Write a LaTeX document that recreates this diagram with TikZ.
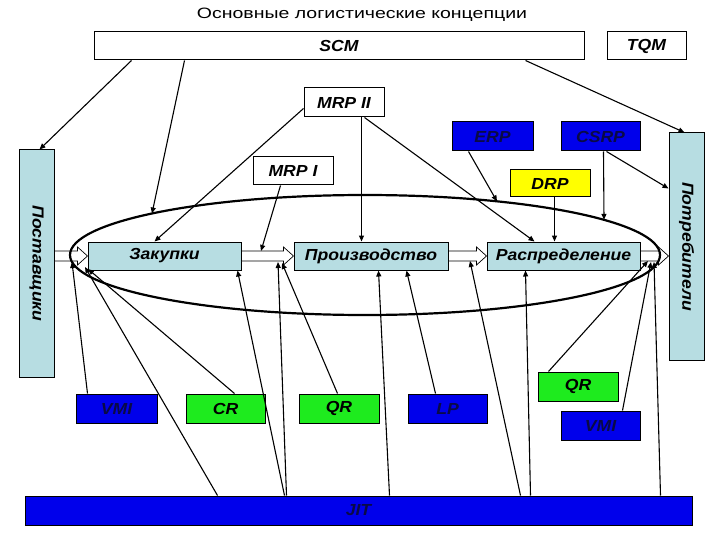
\documentclass[tikz,border=0pt]{standalone}
\usepackage{fontspec}
\setmainfont{Liberation Sans}
\newfontfamily\lblfam[FakeStretch=1.1]{Liberation Sans}
\newfontfamily\titfam[FakeStretch=1.3]{Liberation Sans}
\usetikzlibrary{arrows.meta,calc}
\definecolor{lblue}{RGB}{183,221,226}
\definecolor{pblue}{RGB}{0,0,235}
\definecolor{pgreen}{RGB}{30,235,30}
\definecolor{ptext}{RGB}{10,10,70}
\definecolor{pyellow}{RGB}{255,255,0}
\tikzset{
  box/.style={draw=black, line width=1pt, inner sep=0pt, text=black,
    font=\lblfam\bfseries\itshape\fontsize{16}{18}\selectfont},
  wbox/.style={box, fill=white},
  lbbox/.style={box, fill=lblue},
  bbox/.style={box, fill=pblue, text=ptext},
  gbox/.style={box, fill=pgreen},
  ybox/.style={box, fill=pyellow},
  vtext/.style={rotate=-90, text=black, inner sep=0pt,
    font=\lblfam\bfseries\itshape\fontsize{16}{18}\selectfont},
  conn/.style={draw=black, line width=1.1pt, -{Triangle[length=6pt,width=5pt]}},
  blockarrow/.style={draw=black, line width=0.7pt, fill=white},
  ellstyle/.style={draw=black, line width=2.2pt}
}
\newcommand\blockarrow[2]{%
  \draw[blockarrow] let \p1=(#1), \p2=(#2) in
    (\x1,{\y1+5pt}) -- ({\x2-10pt},{\y1+5pt}) -- ({\x2-10pt},{\y1+9pt}) -- (\x2,\y1)
    -- ({\x2-10pt},{\y1-9pt}) -- ({\x2-10pt},{\y1-5pt}) -- (\x1,{\y1-5pt}) -- cycle;}
\begin{document}
\begin{tikzpicture}[x=1pt,y=-1pt]
\useasboundingbox (0,0) rectangle (720,540);
% title
\node[font=\titfam\fontsize{15}{17}\selectfont, inner sep=0pt] (title) at (362,15) {Основные логистические концепции};
% top boxes
\node[wbox, minimum width=490pt, minimum height=28pt] (scm) at (339,46) {SCM};
\node[wbox, minimum width=79pt, minimum height=28pt] (tqm) at (646.5,46) {TQM};
\node[wbox, minimum width=80pt, minimum height=29pt] (mrp2) at (344,102.5) {MRP II};
\node[bbox, minimum width=81pt, minimum height=29pt] (erp) at (492.5,136.5) {ERP};
\node[bbox, minimum width=79pt, minimum height=29pt] (csrp) at (600.5,136.5) {CSRP};
\node[wbox, minimum width=80pt, minimum height=28pt] (mrp1) at (293,171) {MRP I};
\node[ybox, minimum width=80pt, minimum height=27pt] (drp) at (550,183.5) {DRP};
% side boxes
\node[lbbox, minimum width=35pt, minimum height=227pt] (potr) at (686.5,246.5) {};
\node[vtext] (potrtext) at (potr.center) {Потребители};
\node[lbbox, minimum width=35pt, minimum height=227pt] (post) at (36.5,263.5) {};
\node[vtext] (posttext) at (post.center) {Поставщики};
% process boxes
\node[lbbox, minimum width=153pt, minimum height=28pt] (zak) at (164.5,256) {Закупки};
\node[lbbox, minimum width=154pt, minimum height=28pt] (proizv) at (371,256) {Производство};
\node[lbbox, minimum width=153pt, minimum height=28pt] (raspr) at (563.5,256) {Распределение};
% bottom boxes
\node[bbox, minimum width=81pt, minimum height=29pt] (vmi1) at (116.5,408.5) {VMI};
\node[gbox, minimum width=79pt, minimum height=29pt] (cr) at (225.5,408.5) {CR};
\node[gbox, minimum width=80pt, minimum height=29pt] (qr1) at (339,408.5) {QR};
\node[bbox, minimum width=79pt, minimum height=29pt] (lp) at (447.5,408.5) {LP};
\node[gbox, minimum width=80pt, minimum height=29pt] (qr2) at (578,386.5) {QR};
\node[bbox, minimum width=79pt, minimum height=29pt] (vmi2) at (600.5,425.5) {VMI};
\node[bbox, minimum width=667pt, minimum height=29pt] (jit) at (358.5,510.5) {JIT};
% block arrows
\blockarrow{post.east |- zak.west}{zak.west}
\blockarrow{zak.east}{proizv.west}
\blockarrow{proizv.east}{raspr.west}
\blockarrow{raspr.east}{potr.west |- raspr.east}
% ellipse
\draw[ellstyle] (365,255) ellipse [x radius=295pt, y radius=60pt];
\coordinate (e1) at (152,213.5);
\coordinate (e2) at (497,201.4);
\coordinate (e3) at (604,219.8);
\coordinate (a2t) at (261,251);
\coordinate (p1) at (72,262);
\coordinate (p2) at (85,267);
\coordinate (p3) at (88,269);
\coordinate (p4) at (278,262);
\coordinate (p5) at (282,263);
\coordinate (p6) at (470,261);
\coordinate (p7) at (648,261);
\coordinate (p8) at (651,262);
\coordinate (p9) at (654,262);
% connectors from above
\draw[conn] ($(scm.south west)+(38,0)$) -- ($(post.north west)+(21,0)$);
\draw[conn] ($(scm.south west)+(91,0)$) -- (e1);
\draw[conn] ($(scm.south west)+(432,0)$) -- ($(potr.north west)+(16,0)$);
\draw[conn] ($(mrp2.south west)+(0,-9)$) -- ($(zak.north west)+(67,0)$);
\draw[conn] ($(mrp2.south west)+(58,0)$) -- ($(proizv.north west)+(68,0)$);
\draw[conn] ($(mrp2.south west)+(61,0)$) -- ($(raspr.north west)+(48,0)$);
\draw[conn] ($(erp.south west)+(17,0)$) -- (e2);
\draw[conn] ($(csrp.south west)+(43,0)$) -- (e3);
\draw[conn] ($(csrp.south west)+(46,0)$) -- ($(potr.north west)+(0,56)$);
\draw[conn] ($(mrp1.south west)+(28,0)$) -- (a2t);
\draw[conn] ($(drp.south west)+(45,0)$) -- ($(raspr.north west)+(68,0)$);
% connectors from below
\draw[conn] ($(vmi1.north west)+(12,0)$) -- (p1);
\draw[conn] ($(jit.north west)+(193,0)$) -- (p2);
\draw[conn] ($(cr.north west)+(49,0)$) -- (p3);
\draw[conn] ($(jit.north west)+(260,0)$) -- ($(zak.south east)+(-4,0)$);
\draw[conn] ($(jit.north west)+(262,0)$) -- (p4);
\draw[conn] ($(qr1.north west)+(39,0)$) -- (p5);
\draw[conn] ($(jit.north west)+(365,0)$) -- ($(proizv.south west)+(85,0)$);
\draw[conn] ($(lp.north west)+(28,0)$) -- ($(proizv.south west)+(113,0)$);
\draw[conn] ($(jit.north west)+(496,0)$) -- (p6);
\draw[conn] ($(jit.north west)+(506,0)$) -- ($(raspr.south west)+(39,0)$);
\draw[conn] ($(qr2.north west)+(11,0)$) -- (p7);
\draw[conn] ($(vmi2.north west)+(62,0)$) -- (p8);
\draw[conn] ($(jit.north west)+(636,0)$) -- (p9);
\end{tikzpicture}
\end{document}
